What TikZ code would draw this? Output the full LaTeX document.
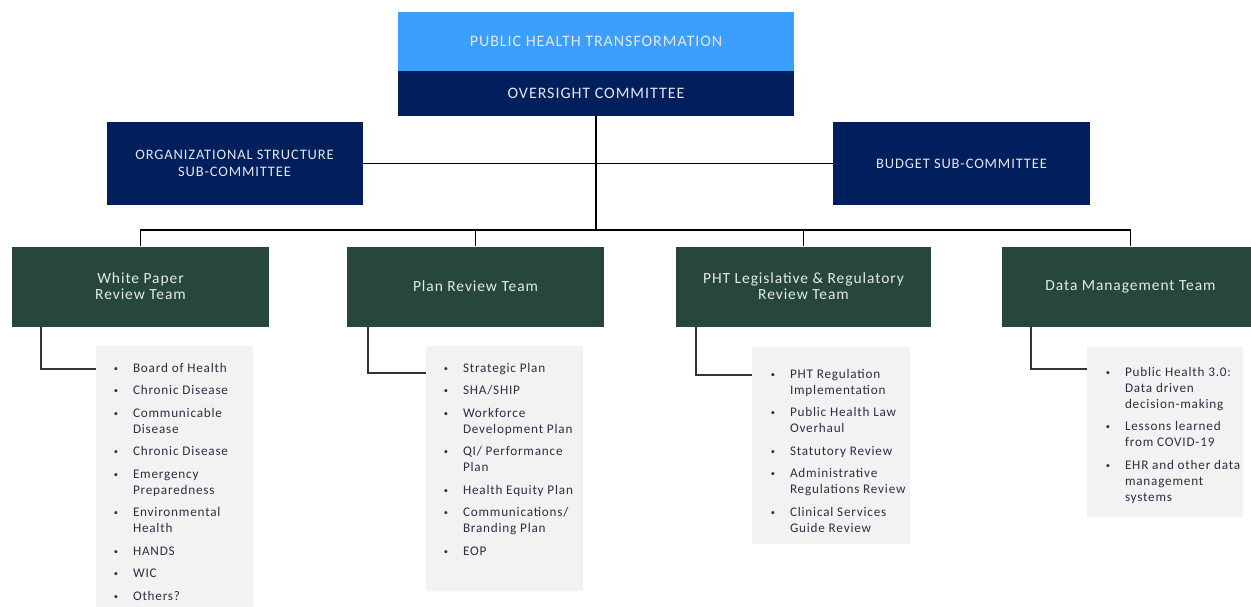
\documentclass[tikz,border=0pt]{standalone}
\usepackage{fontspec}
\setmainfont{Carlito}[LetterSpace=6]
\definecolor{skyb}{HTML}{3A9FFF}
\definecolor{navyb}{HTML}{001F5C}
\definecolor{teamg}{HTML}{27473C}
\definecolor{lgray}{HTML}{F2F2F2}
\definecolor{listc}{HTML}{2E2E45}
\definecolor{hdrtxt}{HTML}{E4E8EE}
\newcommand\lbul{\llap{\raisebox{0.8pt}{\fontsize{8.5}{8.5}\selectfont\textbullet}\hspace{15pt}}}
\begin{document}
\begin{tikzpicture}[x=1pt,y=-1pt,
  box/.style={rectangle, inner sep=0pt, align=center, text=hdrtxt},
  topb/.style={box, minimum width=396pt, font=\fontsize{16}{18}\selectfont},
  subc/.style={box, fill=navyb, minimum width=256pt, minimum height=83pt, font=\fontsize{14.5}{16.5}\selectfont},
  team/.style={box, fill=teamg, minimum width=257pt, minimum height=80pt, font=\fontsize{15.5}{16}\selectfont},
  lstbox/.style={rectangle, fill=lgray, inner sep=0pt},
  lsttxt/.style={anchor=north west, inner sep=0pt, align=left, text=listc, font=\fontsize{13.2}{16}\selectfont},
  conn/.style={draw=black, line width=1.1pt},
  elbow/.style={draw=black!80, line width=1.5pt}]
\useasboundingbox (0,0) rectangle (1251,606);
% top
\node[topb, fill=skyb, minimum height=59pt] (ttl) at (596,41.5) {PUBLIC HEALTH TRANSFORMATION};
\node[topb, fill=navyb, minimum height=45pt] (ovs) at (596,93.5) {OVERSIGHT COMMITTEE};
% sub-committees
\node[subc] (org) at (234.5,163.5) {ORGANIZATIONAL STRUCTURE\\SUB-COMMITTEE};
\node[subc, minimum width=257pt] (bud) at (961.5,163.5) {BUDGET SUB-COMMITTEE};
% teams
\node[team] (wp) at (140.5,286.5) {White Paper\\Review Team};
\node[team] (pl) at (475.5,286.5) {Plan Review Team};
\node[team, minimum width=255pt] (ph) at (803.5,286.5) {PHT Legislative \& Regulatory\\Review Team};
\node[team] (dm) at (1130.5,286.5) {Data Management Team};
% list boxes
\node[lstbox, minimum width=157pt, minimum height=264pt] (wpl) at (174.5,478) {};
\node[lstbox, minimum width=157pt, minimum height=245pt] (pll) at (504.5,468.5) {};
\node[lstbox, minimum width=158pt, minimum height=197pt] (phl) at (831,445.5) {};
\node[lstbox, minimum width=156pt, minimum height=170pt] (dml) at (1165,432) {};
% list texts
\node[lsttxt] (wpt) at ([shift={(37pt,-17pt)}]wpl.north west) {%
\lbul Board of Health\\[6.5pt]
\lbul Chronic Disease\\[6.5pt]
\lbul Communicable\\Disease\\[6.5pt]
\lbul Chronic Disease\\[6.5pt]
\lbul Emergency\\Preparedness\\[6.5pt]
\lbul Environmental\\Health\\[6.5pt]
\lbul HANDS\\[6.5pt]
\lbul WIC\\[6.5pt]
\lbul Others?};
\node[lsttxt] (plt) at ([shift={(37pt,-17pt)}]pll.north west) {%
\lbul Strategic Plan\\[6.5pt]
\lbul SHA/SHIP\\[6.5pt]
\lbul Workforce\\Development Plan\\[6.5pt]
\lbul QI/ Performance\\Plan\\[6.5pt]
\lbul Health Equity Plan\\[6.5pt]
\lbul Communications/\\Branding Plan\\[6.5pt]
\lbul EOP};
\node[lsttxt] (pht) at ([shift={(38pt,-22pt)}]phl.north west) {%
\lbul PHT Regulation\\Implementation\\[6.5pt]
\lbul Public Health Law\\Overhaul\\[6.5pt]
\lbul Statutory Review\\[6.5pt]
\lbul Administrative\\Regulations Review\\[6.5pt]
\lbul Clinical Services\\Guide Review};
\node[lsttxt] (dmt) at ([shift={(38pt,-20pt)}]dml.north west) {%
\lbul Public Health 3.0:\\Data driven\\decision-making\\[6.5pt]
\lbul Lessons learned\\from COVID-19\\[6.5pt]
\lbul EHR and other data\\management\\systems};
% connectors
\coordinate (busL) at (140.5,230);
\coordinate (busR) at (1130.5,230);
\draw[conn] (ovs.south) -- (ovs.south |- busL);
\draw[conn] (org.east) -- (bud.west);
\draw[conn] (wp.north) |- (busL) -- (busR) -- (dm.north);
\draw[conn] (pl.north) -- (pl.north |- busL);
\draw[conn] (ph.north) -- (ph.north |- busL);
\draw[elbow] ([xshift=29pt]wp.south west) |- ([yshift=-23pt]wpl.north west);
\draw[elbow] ([xshift=21pt]pl.south west) |- ([yshift=-27pt]pll.north west);
\draw[elbow] ([xshift=20pt]ph.south west) |- ([yshift=-28pt]phl.north west);
\draw[elbow] ([xshift=29pt]dm.south west) |- ([yshift=-22pt]dml.north west);
\end{tikzpicture}
\end{document}
